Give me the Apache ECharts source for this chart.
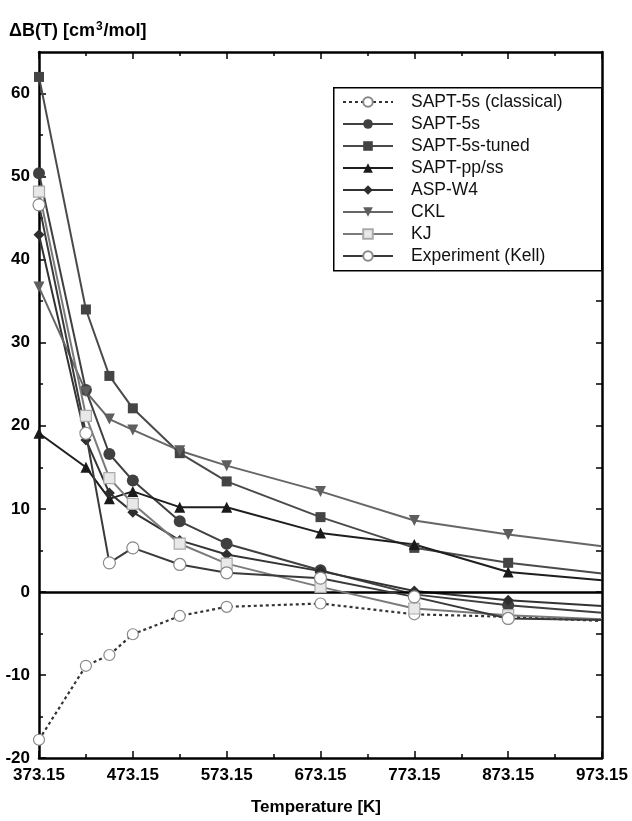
<!DOCTYPE html>
<html>
<head>
<meta charset="utf-8">
<script src="https://cdn.jsdelivr.net/npm/echarts@6/dist/echarts.min.js"></script>
<style>
html,body{margin:0;padding:0;background:#fff;}
#chart{width:632px;height:821px;}
</style>
</head>
<body>
<div id="chart"></div>
<script>
const temps = [373.15, 423.15, 448.15, 473.15, 523.15, 573.15, 673.15, 773.15, 873.15, 973.15];
const classical = [-17.8, -8.9, -7.6, -5.1, -2.9, -1.8, -1.4, -2.7, -3.0, -3.5];
const sapt5s = [50.4, 24.3, 16.6, 13.4, 8.5, 5.8, 2.6, -0.3, -1.6, -2.5];
const tuned = [62.0, 34.0, 26.0, 22.1, 16.7, 13.3, 9.0, 5.3, 3.5, 2.2];
const ppss = [19.1, 15.0, 11.2, 12.1, 10.2, 10.2, 7.1, 5.7, 2.4, 1.4];
const aspw4 = [43.0, 18.3, 11.9, 9.6, 6.2, 4.5, 2.5, 0.1, -1.0, -1.7];
const ckl = [36.7, 24.1, 20.8, 19.5, 17.0, 15.2, 12.1, 8.6, 6.9, 5.5];
const kj = [48.2, 21.2, 13.7, 10.6, 5.8, 3.4, 0.6, -2.0, -2.8, -3.3];
const kell = [46.6, 19.1, 3.5, 5.3, 3.3, 2.3, 1.65, -0.6, -3.2, -3.4];

const xMajor = [373.15, 473.15, 573.15, 673.15, 773.15, 873.15, 973.15];
const xMinor = [423.15, 523.15, 623.15, 723.15, 823.15, 923.15];
const yMajor = [-20, -10, 0, 10, 20, 30, 40, 50, 60];
const yMinor = [-15, -5, 5, 15, 25, 35, 45, 55];
const yRight = [-15, -10, -5, 0, 5, 10, 15, 20, 25, 30, 35, 40, 45, 50, 55, 60];

const FONT = '"Liberation Sans", Arial, Helvetica, sans-serif';
const xMin = 373.15, xMax = 973.15, yMin = -20, yMax = 65;

// the last point sits on the right frame and shows no marker in the original
function pair(vals){
  return temps.map((t,i)=> i === temps.length-1 ? {value:[t, vals[i]], symbol:'none'} : [t, vals[i]]);
}

function xAx(pos, ticks, len, showLine, showLabel){
  return {
    type:'value', position:pos, min:xMin, max:xMax,
    axisLine:{show:showLine, onZero:false, lineStyle:{color:'#000', width:2.5}},
    axisTick:{show:true, inside:true, length:len, customValues:ticks, lineStyle:{color:'#000', width:1.5}},
    axisLabel:{show:showLabel, customValues:ticks, margin:9, color:'#000', fontFamily:FONT, fontWeight:'bold', fontSize:17,
      formatter:v=>v.toFixed(2)},
    splitLine:{show:false}
  };
}
function yAx(pos, ticks, len, showLine, showLabel){
  return {
    type:'value', position:pos, min:yMin, max:yMax,
    axisLine:{show:showLine, onZero:false, lineStyle:{color:'#000', width:2.5}},
    axisTick:{show:true, inside:true, length:len, customValues:ticks, lineStyle:{color:'#000', width:1.5}},
    axisLabel:{show:showLabel, customValues:ticks, margin:9, color:'#000', fontFamily:FONT, fontWeight:'bold', fontSize:17},
    splitLine:{show:false}
  };
}

function ser(name, vals, opt){
  return Object.assign({
    name, type:'line', data:pair(vals), xAxisIndex:0, yAxisIndex:0,
    symbolSize:11, clip:true, animation:false
  }, opt);
}

const series = [
  ser('SAPT-5s (classical)', classical, {symbol:'circle', symbolSize:11,
    itemStyle:{color:'#fff', borderColor:'#888', borderWidth:1.2},
    lineStyle:{color:'#333', width:2.2, type:[3,3]}, z:3,
    markLine:{silent:true, symbol:'none', label:{show:false}, animation:false,
      lineStyle:{color:'#000', width:2.5, type:'solid'}, data:[{yAxis:0}]}}),
  ser('SAPT-5s', sapt5s, {symbol:'circle', symbolSize:12,
    itemStyle:{color:'#404040'}, lineStyle:{color:'#404040', width:2}, z:4}),
  ser('SAPT-5s-tuned', tuned, {symbol:'rect', symbolSize:10,
    itemStyle:{color:'#444'}, lineStyle:{color:'#4a4a4a', width:2}, z:4}),
  ser('SAPT-pp/ss', ppss, {symbol:'triangle', symbolSize:11,
    itemStyle:{color:'#1a1a1a'}, lineStyle:{color:'#1e1e1e', width:2}, z:4}),
  ser('ASP-W4', aspw4, {symbol:'diamond', symbolSize:11,
    itemStyle:{color:'#2e2e2e'}, lineStyle:{color:'#333', width:2}, z:4}),
  ser('CKL', ckl, {symbol:'triangle', symbolRotate:180, symbolSize:11,
    itemStyle:{color:'#5e5e5e'}, lineStyle:{color:'#666', width:2}, z:4}),
  ser('KJ', kj, {symbol:'rect', symbolSize:11,
    itemStyle:{color:'#e8e8e8', borderColor:'#aaa', borderWidth:1.2}, lineStyle:{color:'#7a7a7a', width:2}, z:5}),
  ser('Experiment (Kell)', kell, {symbol:'circle', symbolSize:12,
    itemStyle:{color:'#fff', borderColor:'#888', borderWidth:1.2}, lineStyle:{color:'#3a3a3a', width:2}, z:5})
];

const chart = echarts.init(document.getElementById('chart'), null, {renderer:'canvas'});
chart.setOption({
  animation:false,
  backgroundColor:'#fff',
  grid:{left:39, right:30, top:52, bottom:63, containLabel:false},
  title:{
    text:'{a|ΔB(T) [cm}{s|3}{a|/mol]}', left:4, top:16,
    textStyle:{rich:{
      a:{fontFamily:FONT, fontWeight:'bold', fontSize:18, color:'#000', verticalAlign:'bottom'},
      s:{fontFamily:FONT, fontWeight:'bold', fontSize:12, color:'#000', verticalAlign:'top', padding:[0,1,7,1]}
    }}
  },
  graphic:[
    {type:'rect', left:333, top:87, shape:{width:268, height:183}, z:50,
      style:{fill:'#fff', stroke:'#000', lineWidth:1.5}},
    {type:'text', left:'center', top:799, z:50,
      style:{text:'Temperature [K]', fontFamily:FONT, fontWeight:'bold', fontSize:17, fill:'#000'}}
  ],
  legend:{
    orient:'vertical', left:342, top:93, z:60, padding:0,
    itemWidth:50, itemHeight:12, itemGap:4,
    textStyle:{fontFamily:FONT, fontSize:17.5, color:'#111', lineHeight:16, padding:[0,0,0,13]},
    data:series.map(s=>s.name)
  },
  xAxis:[
    xAx('bottom', xMajor, 7, true, true),
    xAx('bottom', xMinor, 4, false, false),
    xAx('top', xMajor, 7, true, false),
    xAx('top', xMinor, 4, false, false)
  ],
  yAxis:[
    yAx('left', yMajor, 7, true, true),
    yAx('left', yMinor, 4, false, false),
    yAx('right', yRight, 6, true, false)
  ],
  series
});
</script>
</body>
</html>
